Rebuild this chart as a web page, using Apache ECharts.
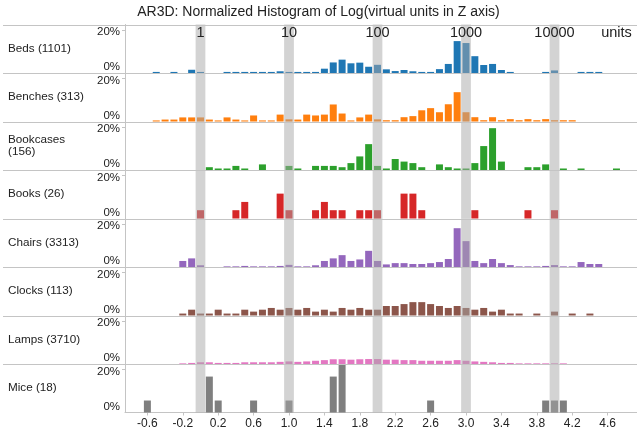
<!DOCTYPE html>
<html><head><meta charset="utf-8">
<script src="https://cdn.jsdelivr.net/npm/echarts@6/dist/echarts.min.js"></script>
<style>html,body{margin:0;padding:0;background:#fff}#c{width:637px;height:433px}</style>
</head><body><div id="c"></div>
<script>
const categories = ['Beds (1101)', 'Benches (313)', 'Bookcases (156)', 'Books (26)', 'Chairs (3313)', 'Clocks (113)', 'Lamps (3710)', 'Mice (18)'];
const bins = [
  -0.6, -0.5, -0.4, -0.3, -0.2, -0.1, 0.0, 0.1, 0.2, 0.3,
  0.4, 0.5, 0.6, 0.7, 0.8, 0.9, 1.0, 1.1, 1.2, 1.3,
  1.4, 1.5, 1.6, 1.7, 1.8, 1.9, 2.0, 2.1, 2.2, 2.3,
  2.4, 2.5, 2.6, 2.7, 2.8, 2.9, 3.0, 3.1, 3.2, 3.3,
  3.4, 3.5, 3.6, 3.7, 3.8, 3.9, 4.0, 4.1, 4.2, 4.3,
  4.4, 4.5, 4.6, 4.7];
const beds = [
  0, 0.5, 0, 0.5, 0, 1.5, 0.5, 0, 0, 0.5,
  0.5, 0.5, 0.5, 0.5, 0.5, 0.8, 0.5, 0.5, 0.5, 0.5,
  2.0, 4.9, 6.2, 4.5, 4.8, 2.9, 3.8, 1.7, 0.9, 1.4,
  0.8, 0.5, 0.5, 1.8, 4.2, 14.8, 13.9, 7.8, 3.7, 4.2,
  1.4, 0.5, 0, 0, 0, 0.5, 1.2, 0, 0, 0.5,
  0.5, 0.5, 0, 0];
const benches = [
  0, 0.5, 0.9, 0.9, 1.9, 1.9, 1.9, 0.9, 0.5, 1.9,
  0.9, 0.5, 2.8, 0.5, 0.5, 3.2, 1.0, 0.9, 3.2, 2.8,
  3.2, 7.9, 3.7, 0.5, 1.9, 3.2, 1.0, 0.6, 0.6, 2.0,
  2.5, 5.2, 6.2, 4.3, 8.0, 13.6, 4.3, 2.0, 0.6, 2.0,
  0.6, 1.1, 0.6, 1.1, 0.6, 1.1, 0.6, 0.6, 0.6, 0,
  0, 0, 0, 0];
const bookcases = [
  0, 0, 0, 0, 0, 0, 0, 1.3, 0.7, 0.7,
  1.9, 0.7, 0, 2.6, 0, 0, 1.9, 0.7, 0, 1.9,
  1.9, 1.9, 1.3, 3.2, 6.3, 12.0, 1.9, 0.7, 5.1, 3.9,
  3.2, 1.3, 0, 2.6, 1.3, 0.7, 0.7, 3.2, 11.1, 19.4,
  3.9, 0, 0, 1.3, 1.3, 2.6, 0, 0.7, 0, 0.7,
  0, 0, 0, 0.7];
const books = [
  0, 0, 0, 0, 0, 0, 3.85, 0, 0, 0,
  3.85, 7.69, 0, 0, 0, 11.54, 3.85, 0, 0, 3.85,
  7.69, 3.85, 3.85, 0, 3.85, 3.85, 3.85, 0, 0, 11.54,
  11.54, 3.85, 0, 0, 0, 0, 0, 3.85, 0, 0,
  0, 0, 0, 3.85, 0, 0, 3.85, 0, 0, 0,
  0, 0, 0, 0];
const chairs = [
  0, 0, 0, 0, 2.8, 4.0, 0.8, 0, 0, 0.3,
  0.3, 0.5, 0.3, 0.3, 0.3, 0.5, 1.0, 0.3, 0.3, 0.8,
  2.8, 4.0, 5.5, 2.8, 3.5, 7.5, 2.8, 1.2, 1.8, 1.8,
  1.4, 1.4, 1.8, 2.3, 3.7, 18.0, 12.0, 2.8, 1.8, 3.7,
  1.8, 0.9, 0.3, 0.3, 0.3, 0.5, 0.9, 0.3, 0.3, 2.3,
  1.4, 1.4, 0, 0];
const clocks = [
  0, 0, 0, 0, 0.9, 2.7, 0.9, 0.9, 2.7, 0.9,
  0.9, 2.7, 1.8, 2.7, 3.5, 2.7, 3.5, 2.7, 3.5, 1.8,
  2.7, 1.8, 3.5, 2.7, 3.5, 2.7, 2.7, 4.4, 4.4, 5.3,
  6.2, 6.2, 5.3, 4.4, 3.5, 4.4, 3.5, 2.7, 3.5, 1.8,
  2.7, 0.9, 0.9, 0, 0.9, 0, 1.8, 0, 0.9, 0,
  0.9, 0, 0, 0];
const lamps = [
  0, 0, 0, 0, 0.3, 0.5, 0.8, 0.8, 0.5, 0.5,
  0.5, 0.8, 0.8, 0.8, 0.8, 1.0, 1.2, 1.0, 1.2, 1.5,
  1.8, 2.2, 2.2, 2.0, 2.2, 2.3, 2.3, 2.0, 2.0, 1.8,
  1.8, 1.5, 1.5, 1.5, 1.5, 1.8, 1.5, 1.2, 1.0, 0.8,
  0.5, 0.5, 0.3, 0.3, 0.3, 0.3, 0.3, 0.3, 0, 0,
  0, 0, 0, 0];
const mice = [
  5.56, 0, 0, 0, 0, 0, 0, 16.67, 5.56, 0,
  0, 0, 5.56, 0, 0, 0, 5.56, 0, 0, 0,
  0, 16.67, 22.22, 0, 0, 0, 0, 0, 0, 0,
  0, 0, 5.56, 0, 0, 0, 0, 0, 0, 0,
  0, 0, 0, 0, 0, 5.56, 5.56, 5.56, 0, 0,
  0, 0, 0, 0];
const seriesValues = [beds, benches, bookcases, books, chairs, clocks, lamps, mice];
const colors = ['#1f77b4', '#ff7f0e', '#2ca02c', '#d62728', '#9467bd', '#8c564b', '#e377c2', '#7f7f7f'];
const xTickValues = [-0.6, -0.2, 0.2, 0.6, 1.0, 1.4, 1.8, 2.2, 2.6, 3.0, 3.4, 3.8, 4.2, 4.6];
const topTickValues = [0, 1, 2, 3, 4, 4.7];
const topTickLabels = ['1', '10', '100', '1000', '10000', 'units'];
const bandCenters = [0, 1, 2, 3, 4];
const yTickValues = [0, 20];

// layout / style constants
const FONT = 'Liberation Sans, Arial, Helvetica, sans-serif';
const TOP0 = 24.5, ROW_H = 48.5, LEFT = 125;
const X_MIN = -0.853, X_MAX = 4.932, Y_MAX = 22.5;
const BAND_HALF = 0.055;
const LINE_COLOR = '#c4c4c4';

const chart = echarts.init(document.getElementById('c'), null, {renderer: 'canvas'});

function wrapName(s) { return s.length > 14 ? s.replace(' (', '\n(') : s; }

const grids = [], xAxes = [], yAxes = [], series = [], graphics = [];
categories.forEach((cat, i) => {
  const last = i === categories.length - 1;
  grids.push({left: LEFT, right: 0, top: TOP0 + i * ROW_H, height: ROW_H, outerBoundsMode: 'none', containLabel: false});
  xAxes.push({
    type: 'value', gridIndex: i, min: X_MIN, max: X_MAX,
    splitLine: {show: false},
    axisLine: {show: last, onZero: false, lineStyle: {color: LINE_COLOR, width: 1}},
    axisTick: {show: last, length: 3, customValues: xTickValues, lineStyle: {color: LINE_COLOR}},
    axisLabel: {show: last, customValues: xTickValues, margin: 5, fontSize: 12, color: '#222', fontFamily: FONT,
      formatter: v => Number(v).toFixed(1)}
  });
  yAxes.push({
    type: 'value', gridIndex: i, min: 0, max: Y_MAX,
    name: wrapName(cat), nameLocation: 'middle', nameRotate: 0, nameGap: 117,
    nameTextStyle: {align: 'left', verticalAlign: 'middle', fontSize: 11.7, color: '#222', fontFamily: FONT, lineHeight: 12},
    splitLine: {show: false},
    axisLine: {show: true, onZero: false, lineStyle: {color: LINE_COLOR, width: 1}},
    axisTick: {show: true, length: 3, customValues: [20], lineStyle: {color: LINE_COLOR}},
    axisLabel: {
      customValues: yTickValues, margin: 5,
      formatter: v => (v === 0 ? '{b|0%}' : '{t|' + v + '%}'),
      rich: {
        b: {fontSize: 11.5, color: '#222', fontFamily: FONT, padding: [0, 0, 12, 0]},
        t: {fontSize: 11.5, color: '#222', fontFamily: FONT, padding: [4, 0, 0, 0]}
      }
    }
  });
  series.push({
    type: 'bar', xAxisIndex: i, yAxisIndex: i, barWidth: 7, z: 2,
    itemStyle: {color: colors[i]},
    data: bins.map((b, k) => [b, seriesValues[i][k]]).filter(d => d[1] > 0),
    animation: false
  });
  series.push({
    type: 'custom', xAxisIndex: i, yAxisIndex: i, z: 3, clip: false, silent: true,
    data: bandCenters.map(v => [v]),
    encode: {x: 0},
    renderItem: (params, api) => {
      const x = api.value(0);
      const p1 = api.coord([x - BAND_HALF, Y_MAX]);
      const p2 = api.coord([x + BAND_HALF, 0]);
      return {type: 'rect', shape: {x: p1[0], y: p1[1], width: p2[0] - p1[0], height: p2[1] - p1[1]},
        style: {fill: 'rgba(167,167,167,0.5)'}};
    },
    animation: false
  });
  graphics.push({
    type: 'line', z: 5, silent: true,
    shape: {x1: 3, y1: Math.round(TOP0 + i * ROW_H) + 0.5, x2: 637, y2: Math.round(TOP0 + i * ROW_H) + 0.5},
    style: {stroke: LINE_COLOR, lineWidth: 1}
  });
});
// top axis with log-unit labels on the first row
xAxes.push({
  type: 'value', gridIndex: 0, position: 'top', min: X_MIN, max: X_MAX, z: 10,
  splitLine: {show: false}, axisLine: {show: false, onZero: false}, axisTick: {show: false},
  axisLabel: {inside: true, margin: 1, customValues: topTickValues, fontSize: 14.5, color: '#222', fontFamily: FONT,
    formatter: v => topTickLabels[topTickValues.indexOf(v)]}
});

chart.setOption({
  backgroundColor: '#fff',
  animation: false,
  title: {text: 'AR3D: Normalized Histogram of Log(virtual units in Z axis)', left: 'center', top: 5, padding: 0,
    textStyle: {fontSize: 14, fontWeight: 'normal', color: '#222', fontFamily: FONT}},
  grid: grids, xAxis: xAxes, yAxis: yAxes, series: series,
  graphic: graphics
});
</script></body></html>
